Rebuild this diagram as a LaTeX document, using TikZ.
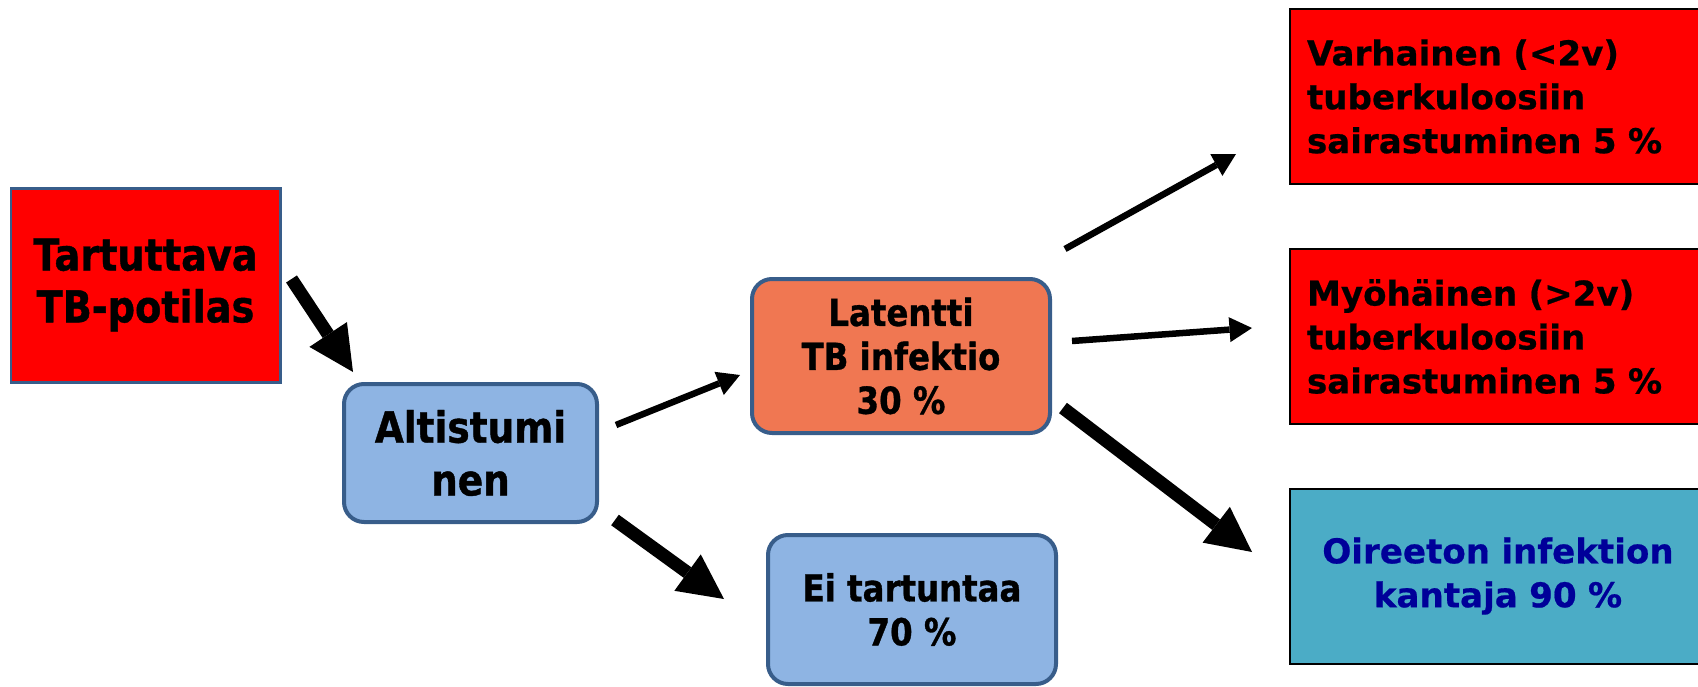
\documentclass[tikz,border=0pt]{standalone}
\usepackage{fontspec}
\setmainfont{DejaVu Sans}[BoldFeatures={FakeBold=0.6}]
\newfontfamily\narrowsans[FakeStretch=0.87, BoldFeatures={FakeBold=0.9}]{DejaVu Sans}
\usepackage{xcolor}
\usetikzlibrary{positioning, calc, arrows.meta}
\definecolor{boxborder}{RGB}{56,93,138}
\definecolor{lightblue}{RGB}{142,180,227}
\definecolor{latorange}{RGB}{240,119,82}
\definecolor{carrieraqua}{RGB}{75,172,198}
\definecolor{carriertext}{RGB}{0,0,153}
\tikzset{
    node distance=3cm, % solmujen perusväli
    redsource/.style={rectangle, fill=red, draw=boxborder, line width=0.06cm,
        minimum width=5.38cm, minimum height=3.88cm, align=center,
        font=\narrowsans\bfseries\fontsize{25}{29.5}\selectfont},
    roundbox/.style={rectangle, rounded corners=0.4cm, draw=boxborder, line width=0.08cm,
        align=center, font=\narrowsans\bfseries\fontsize{21.2}{25}\selectfont},
    outcome/.style={rectangle, draw=black, line width=0.04cm, inner xsep=0.34cm,
        minimum width=8.32cm, minimum height=3.5cm, text width=7.64cm,
        font=\bfseries\fontsize{19.4}{25}\selectfont},
    thinarrow/.style={line width=0.13cm, -{Triangle[width=0.5cm, length=0.45cm, line width=0pt]}},
    thickarrow/.style={line width=0.26cm, -{Triangle[width=0.9cm, length=0.9cm, line width=0pt]}},
}

\begin{document}
\begin{tikzpicture}[on grid]
    \path[use as bounding box, clip] (0,0) rectangle (33.96,-13.74);

    % Laatikot
    \node[redsource] (tart) at (2.91,-5.70) {Tartuttava\\TB-potilas};
    \node[roundbox, fill=lightblue, minimum width=5.06cm, minimum height=2.76cm,
          font=\narrowsans\bfseries\fontsize{24.5}{30}\selectfont]
          (alt) [below right=3.36cm and 6.5cm of tart] {Altistumi\\nen};
    \node[roundbox, fill=latorange, minimum width=5.96cm, minimum height=3.08cm]
          (lat) [above right=1.94cm and 8.61cm of alt] {Latentti\\TB infektio\\30 \%};
    \node[roundbox, fill=lightblue, minimum width=5.76cm, minimum height=2.98cm]
          (ei) [below right=3.13cm and 8.83cm of alt] {Ei tartuntaa\\70 \%};
    \node[outcome, fill=red, align=left] (varh) [above right=5.19cm and 11.94cm of lat]
          {Varhainen (<2v)\\tuberkuloosiin\\sairastuminen 5 \%};
    \node[outcome, fill=red, align=left] (myo) [below=4.8cm of varh]
          {Myöhäinen (>2v)\\tuberkuloosiin\\sairastuminen 5 \%};
    \node[outcome, fill=carrieraqua, align=center, text=carriertext] (oir) [below=4.79cm of myo]
          {Oireeton infektion\\kantaja 90 \%};

    % Nuolet
    \draw[thickarrow] ($(tart.east)+(0.2,0.12)$) -- ($(alt.north west)+(0.22,0.2)$);
    \draw[thinarrow] ($(alt.east)+(0.34,0.56)$) -- ($(lat.west)+(-0.2,-0.38)$);
    \draw[thickarrow] ($(alt.east)+(0.32,-1.34)$) -- ($(ei.west)+(-0.84,0.21)$);
    \draw[thinarrow] ($(lat.east)+(0.26,2.14)$) -- ($(varh.west)+(-1.06,-1.15)$);
    \draw[thinarrow] ($(lat.east)+(0.4,0.3)$) -- ($(myo.west)+(-0.74,0.17)$);
    \draw[thickarrow] ($(lat.east)+(0.22,-1.04)$) -- ($(oir.west)+(-0.74,0.48)$);
\end{tikzpicture}
\end{document}
